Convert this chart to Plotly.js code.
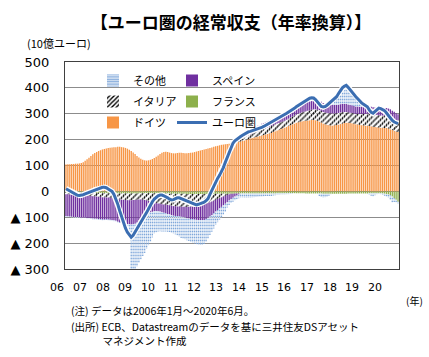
<!DOCTYPE html>
<html><head><meta charset="utf-8">
<script src="https://cdn.plot.ly/plotly-3.0.1.min.js"></script>
<style>html,body{margin:0;padding:0;background:#fff}#chart{width:429px;height:357px}</style>
</head><body><div id="chart"></div>
<script>
// ---- data (10億ユーロ, 12-month sums, monthly 2006/01 - 2020/06) ----
const startYear = 2006, lastYear = 2020, lastMonth = 6;
const yearLabels = ['06','07','08','09','10','11','12','13','14','15','16','17','18','19','20'];
const yTickVals = [-300,-200,-100,0,100,200,300,400,500];
const yTickText = ['▲ 300','▲ 200','▲ 100','0','100','200','300','400','500'];

const germany = [
104,105,105,106,106,107,107,108,110,113,118,124,
130,137,143,148,152,156,159,162,164,166,168,169,
170,171,171,172,172,171,170,168,165,161,156,150,
144,137,131,126,122,120,119,120,122,125,129,134,
139,144,149,152,153,152,150,148,147,147,148,149,
149,148,147,147,148,149,150,152,154,156,158,160,
162,164,166,168,170,172,174,176,178,180,181,182,
183,184,185,186,187,189,191,193,195,197,199,201,
204,206,208,210,212,214,216,218,220,222,224,226,
229,232,235,238,241,244,247,250,253,256,259,262,
265,267,269,271,272,273,274,275,276,276,275,273,
270,266,262,259,257,256,255,255,256,257,258,260,
262,264,265,265,264,263,261,259,258,257,256,255,
254,254,253,252,250,249,248,247,246,246,245,245,
243,240,237,234,231,229];
const france = [
-3,-3,-3,-4,-4,-4,-4,-5,-5,-5,-5,-5,
-5,-5,-6,-6,-6,-6,-6,-7,-7,-7,-7,-7,
-7,-7,-7,-8,-8,-8,-8,-8,-8,-8,-8,-8,
-8,-8,-7,-7,-7,-7,-7,-7,-7,-7,-7,-7,
-7,-7,-8,-8,-8,-8,-8,-9,-9,-9,-9,-9,
-9,-9,-9,-10,-10,-10,-10,-10,-10,-10,-10,-10,
-10,-10,-10,-10,-10,-10,-9,-9,-9,-9,-9,-9,
-9,-9,-9,-9,-8,-8,-8,-8,-8,-8,-8,-8,
-8,-8,-8,-8,-8,-8,-8,-8,-8,-8,-8,-8,
-8,-8,-7,-7,-7,-7,-7,-7,-7,-7,-7,-7,
-7,-7,-7,-7,-7,-8,-8,-8,-8,-8,-8,-8,
-8,-8,-9,-9,-9,-9,-9,-9,-9,-9,-9,-9,
-9,-9,-9,-8,-8,-8,-8,-8,-8,-8,-8,-8,
-8,-8,-7,-7,-7,-7,-7,-7,-7,-8,-9,-10,
-12,-15,-20,-26,-32,-40];
const italy = [
-8,-8,-9,-9,-9,-10,-10,-10,-11,-11,-11,-12,
-12,-13,-13,-14,-14,-15,-15,-16,-16,-17,-17,-18,
-19,-20,-21,-22,-23,-24,-25,-25,-26,-26,-26,-25,
-25,-24,-24,-24,-25,-26,-28,-30,-32,-34,-36,-38,
-40,-41,-42,-43,-44,-45,-46,-47,-48,-48,-49,-49,
-50,-50,-50,-50,-49,-49,-48,-47,-46,-45,-44,-43,
-41,-38,-35,-32,-29,-26,-23,-20,-17,-14,-11,-8,
-5,-2,1,4,6,8,10,11,12,13,14,15,
16,17,18,19,20,21,22,23,24,25,26,27,
27,27,27,26,26,26,26,27,28,29,30,31,
32,33,34,35,36,37,38,39,40,41,42,43,
44,45,45,46,46,46,46,46,45,45,45,45,
44,43,42,41,40,40,40,40,41,42,43,44,
45,46,46,47,47,47,47,47,47,47,47,47,
47,47,46,46,45,45];
const spain = [
-84,-85,-85,-85,-86,-86,-86,-86,-86,-86,-86,-86,
-86,-86,-86,-86,-86,-86,-86,-86,-86,-85,-85,-85,
-85,-85,-86,-87,-88,-89,-90,-91,-92,-93,-94,-94,
-92,-88,-82,-75,-67,-60,-53,-47,-42,-38,-34,-31,
-30,-30,-31,-32,-33,-34,-35,-36,-37,-38,-38,-38,
-39,-40,-42,-44,-46,-48,-50,-52,-54,-56,-57,-58,
-60,-59,-57,-55,-52,-49,-46,-43,-40,-37,-34,-31,
-28,-24,-20,-16,-12,-8,-4,0,4,8,12,15,
17,19,20,21,22,22,23,23,24,24,25,25,
25,25,26,26,26,27,27,27,28,28,28,29,
29,30,30,31,31,32,32,33,33,34,34,35,
35,35,35,34,34,33,33,33,33,32,32,32,
32,31,31,30,30,30,29,29,29,28,28,28,
28,28,28,28,28,28,29,29,29,29,30,30,
30,30,29,28,26,24];
const others = [
-2,-1,-1,-2,-2,-3,-3,-2,-2,-1,-1,-2,
-2,-3,-3,-2,-2,-2,-3,-3,-2,-2,-3,-3,
-3,-3,-2,-2,-3,-3,-4,-6,-10,-40,-180,-175,
-175,-170,-163,-156,-151,-145,-134,-124,-113,-99,-86,-82,
-78,-76,-74,-72,-70,-69,-68,-68,-69,-71,-74,-78,
-82,-83,-84,-85,-87,-89,-90,-92,-94,-95,-96,-96,
-92,-88,-80,-72,-65,-58,-52,-47,-43,-40,-36,-32,
-20,-18,-16,-15,-14,-14,-15,-16,-16,-17,-17,-17,
-17,-16,-15,-14,-13,-12,-12,-11,-10,-10,-10,-10,
-8,-7,-6,-6,-5,-5,-5,-4,-4,-3,-2,0,
2,4,6,8,10,12,14,15,14,12,8,2,
-10,-14,-15,-14,-12,-8,-2,6,16,28,40,51,
60,68,72,66,58,50,46,37,30,22,15,10,
5,0,-6,-10,-12,-8,-4,-2,-4,-6,-8,-10,
-12,-18,-22,-15,-10,-8];
const euroArea = [
10,6,2,-3,-8,-12,-15,-16,-15,-13,-10,-7,
-5,-2,2,6,9,12,14,16,16,14,9,3,
0,-12,-30,-50,-75,-100,-122,-142,-158,-170,-177,-170,
-158,-145,-133,-120,-108,-95,-82,-68,-52,-40,-30,-22,
-17,-14,-14,-17,-20,-25,-30,-33,-32,-28,-25,-25,
-28,-32,-35,-39,-42,-45,-48,-50,-52,-50,-48,-45,
-42,-36,-28,-12,5,20,35,50,62,75,92,112,
130,152,170,186,195,202,207,212,217,222,226,230,
232,234,236,238,241,244,247,251,255,259,263,267,
272,276,281,285,289,293,298,302,307,311,316,321,
327,332,337,343,348,353,357,360,362,361,355,345,
335,328,326,328,333,340,347,352,358,366,378,390,
400,406,410,402,392,382,376,366,358,348,342,337,
332,327,315,306,302,310,318,322,320,316,312,303,
292,282,274,268,265,262];

// month categories
const months = [];
for (let y = startYear; y <= lastYear; y++) {
  for (let m = 1; m <= 12; m++) {
    if (y === lastYear && m > lastMonth) break;
    months.push(y + '/' + String(m).padStart(2, '0'));
  }
}

// ---- layout geometry ----
const W = 429, H = 357, L = 65, R = 399, T = 62, B = 269;
const px = x => (x - L) / (R - L);
const py = y => (B - y) / (B - T);
const JP = '"Noto Sans CJK JP", "Noto Sans", sans-serif';
const NUM = '"DejaVu Sans", Verdana, sans-serif';

const barBase = {type: 'bar', x: months, hoverinfo: 'skip'};
const traces = [
  Object.assign({}, barBase, {name: 'ドイツ', y: germany, legend: 'legend5',
    marker: {color: '#F79646', line: {width: 0}}}),
  Object.assign({}, barBase, {name: 'フランス', y: france, legend: 'legend4',
    marker: {color: '#8DB04C', line: {width: 0}}}),
  Object.assign({}, barBase, {name: 'イタリア', y: italy, legend: 'legend3',
    marker: {color: '#000000', line: {width: 0},
      pattern: {shape: '/', fgcolor: '#000000', bgcolor: '#ffffff', size: 4, solidity: 0.45}}}),
  Object.assign({}, barBase, {name: 'スペイン', y: spain, legend: 'legend2',
    marker: {color: '#7030A0', line: {width: 0}}}),
  Object.assign({}, barBase, {name: 'その他', y: others, legend: 'legend',
    marker: {color: '#8DB3E2', line: {width: 0},
      pattern: {shape: '-', fgcolor: '#7FA7DA', bgcolor: '#E4ECF7', size: 3, solidity: 0.5}}}),
  {type: 'scatter', mode: 'lines', x: months, y: euroArea, showlegend: false, hoverinfo: 'skip',
    line: {color: '#ffffff', width: 5.5}},
  {type: 'scatter', mode: 'lines', x: months, y: euroArea, name: 'ユーロ圏', legend: 'legend6',
    line: {color: '#3B6EB2', width: 3}}
];

const annotations = [];
yearLabels.forEach((t, k) => {
  annotations.push({xref: 'paper', yref: 'paper', x: px(57.3 + 22.7 * k), y: py(287),
    xanchor: 'center', yanchor: 'middle', text: t, showarrow: false,
    font: {family: NUM, size: 11, color: '#000'}});
});
const txt = (text, x, y, size, xanchor, yanchor) => ({xref: 'paper', yref: 'paper', x: px(x), y: py(y),
  xanchor: xanchor || 'left', yanchor: yanchor || 'middle', align: 'left', text: text, showarrow: false, borderpad: 0,
  font: {family: JP, size: size, color: '#000'}});
annotations.push(txt('(10億ユーロ)', 59, 43, 11, 'center'));
annotations.push(txt('(年)', 414, 300, 10, 'center'));
annotations.push(txt('(注) データは2006年1月～2020年6月。', 70, 310, 10.5));
annotations.push(txt('(出所) ECB、Datastreamのデータを基に三井住友DSアセット<br>　　　マネジメント作成', 70, 317.6, 10.5, 'left', 'top'));

const legendBase = {orientation: 'h', xanchor: 'left', yanchor: 'top', bgcolor: 'rgba(0,0,0,0)',
  font: {family: JP, size: 11, color: '#000'}};
const col1 = px(93), col2 = px(172);
const row = r => py(66 + 21 * r);

const layout = {
  width: W, height: H,
  margin: {l: L, r: W - R, t: T, b: H - B, pad: 0},
  paper_bgcolor: '#ffffff', plot_bgcolor: '#ffffff',
  title: {text: '【ユーロ圏の経常収支（年率換算）】', x: 231 / W, xanchor: 'center',
    y: 1 - 23 / H, yanchor: 'middle', yref: 'container',
    font: {family: JP, size: 17, color: '#000', weight: 'bold'}},
  barmode: 'relative', bargap: 0.3,
  showlegend: true,
  legend:  Object.assign({}, legendBase, {x: col1, y: row(0)}),
  legend2: Object.assign({}, legendBase, {x: col2, y: row(0)}),
  legend3: Object.assign({}, legendBase, {x: col1, y: row(1)}),
  legend4: Object.assign({}, legendBase, {x: col2, y: row(1)}),
  legend5: Object.assign({}, legendBase, {x: col1, y: row(2)}),
  legend6: Object.assign({}, legendBase, {x: col2, y: row(2)}),
  xaxis: {type: 'category', range: [-0.5, months.length - 0.5], showticklabels: false,
    ticks: '', showgrid: false, zeroline: false, showline: true, mirror: true,
    linecolor: '#404040', linewidth: 1, layer: 'above traces', fixedrange: true},
  yaxis: {range: [-300, 500], tickvals: yTickVals, ticktext: yTickText, ticks: '',
    tickfont: {family: NUM, size: 13, color: '#000'}, ticklabelstandoff: 12,
    showgrid: true, gridcolor: '#8c8c8c', gridwidth: 1,
    zeroline: true, zerolinecolor: '#8c8c8c', zerolinewidth: 1,
    showline: true, mirror: true, linecolor: '#404040', linewidth: 1, fixedrange: true},
  annotations: annotations
};

Plotly.newPlot('chart', traces, layout, {staticPlot: true, displayModeBar: false});
</script></body></html>
